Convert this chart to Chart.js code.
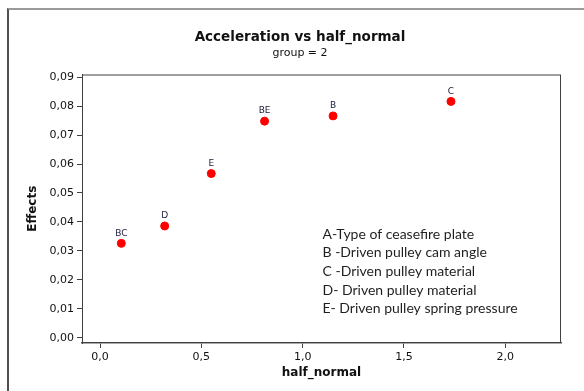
<!DOCTYPE html>
<html>
<head>
<meta charset="utf-8">
<script src="https://cdn.jsdelivr.net/npm/chart.js@4"></script>
<style>
html,body{margin:0;background:#fff;overflow:hidden;}
#frame{position:absolute;left:7px;top:8px;width:577px;height:383px;border-left:2px solid #505050;border-top:2px solid #9a9a9a;box-sizing:border-box;}
#wrap{position:absolute;left:0;top:0;width:584px;height:391px;}
</style>
</head>
<body>
<div id="frame"></div>
<div id="wrap"><canvas id="c" width="584" height="391"></canvas></div>
<script>
// data
const effectNames=["BC","D","E","BE","B","C"];
const halfNormal=[0.105,0.319,0.549,0.812,1.150,1.732];
const effects=[0.0326,0.0386,0.0567,0.0748,0.0766,0.0816];

const xTicks=[0,0.5,1,1.5,2];
const yTicks=[0,0.01,0.02,0.03,0.04,0.05,0.06,0.07,0.08,0.09];

const notes=["A-Type of ceasefire plate","B -Driven pulley cam angle","C -Driven pulley material","D- Driven pulley material","E- Driven pulley spring pressure"];

const boxPlugin={
id:"box",
afterDatasetsDraw(chart){
const ctx=chart.ctx;
const a=chart.chartArea;
ctx.save();
ctx.strokeStyle="#404040";
ctx.lineWidth=1;
ctx.strokeRect(a.left+0.5,a.top+0.5,a.right-a.left-1,a.bottom-a.top-1);

// point names
const meta=chart.getDatasetMeta(0);
ctx.fillStyle="#1c1c3a";
ctx.font="9px 'DejaVu Sans'";
ctx.textAlign="center";
ctx.textBaseline="middle";
meta.data.forEach((p,i)=>{
ctx.fillText(effectNames[i],p.x,p.y-10);
});

// factor notes
ctx.fillStyle="#1f1f1f";
ctx.font="14px Lato";
ctx.textAlign="left";
notes.forEach((t,i)=>{
ctx.fillText(t,a.left+240.5,a.top+159.5+i*18.7);
});
ctx.restore();
}
};

function comma(v,d){return v.toFixed(d).replace(".",",");}

new Chart(document.getElementById("c"),{
type:"scatter",
data:{
datasets:[{
data:halfNormal.map((x,i)=>({x:x,y:effects[i]})),
backgroundColor:"#ff0000",
borderColor:"#ff0000",
pointRadius:4,
pointHoverRadius:4
}]
},
options:{
responsive:false,
animation:false,
events:[],
layout:{padding:{left:39,right:23,top:0,bottom:0}},
plugins:{
legend:{display:false},
tooltip:{enabled:false},
title:{
display:true,
text:"Acceleration vs half_normal",
color:"#111",
font:{family:"DejaVu Sans",size:13.5,weight:"bold",lineHeight:1.2},
padding:{top:28.9,bottom:0}
},
subtitle:{
display:true,
text:"group = 2",
color:"#111",
font:{family:"DejaVu Sans",size:11,lineHeight:1.2},
padding:{top:1.4,bottom:14.8}
}
},
scales:{
x:{
type:"linear",
min:-0.089,
max:2.275,
afterBuildTicks(s){s.ticks=xTicks.map(v=>({value:v}));},
afterFit(s){s.height=48;},
grid:{display:true,drawOnChartArea:false,drawTicks:true,tickLength:5,color:"#404040"},
border:{display:true,color:"#555",width:1.5},
ticks:{color:"#111",padding:3,maxRotation:0,font:{family:"DejaVu Sans",size:11},callback:v=>comma(v,1)},
title:{display:true,text:"half_normal",color:"#111",font:{family:"DejaVu Sans",size:12,weight:"bold",lineHeight:1.2},padding:{top:0,bottom:10.8}}
},
y:{
type:"linear",
min:-0.0018,
max:0.0909,
afterBuildTicks(s){s.ticks=yTicks.map(v=>({value:v}));},
afterFit(s){s.width=43;},
grid:{display:true,drawOnChartArea:false,drawTicks:true,tickLength:5,color:"#404040"},
border:{display:true,color:"#404040"},
ticks:{color:"#111",padding:3,font:{family:"DejaVu Sans",size:11},callback:v=>comma(v,2)},
title:{display:true,text:"Effects",color:"#111",font:{family:"DejaVu Sans",size:12,weight:"bold",lineHeight:1.2},padding:{top:-13.2,bottom:0}}
}
}
},
plugins:[boxPlugin]
});
</script>
</body>
</html>
